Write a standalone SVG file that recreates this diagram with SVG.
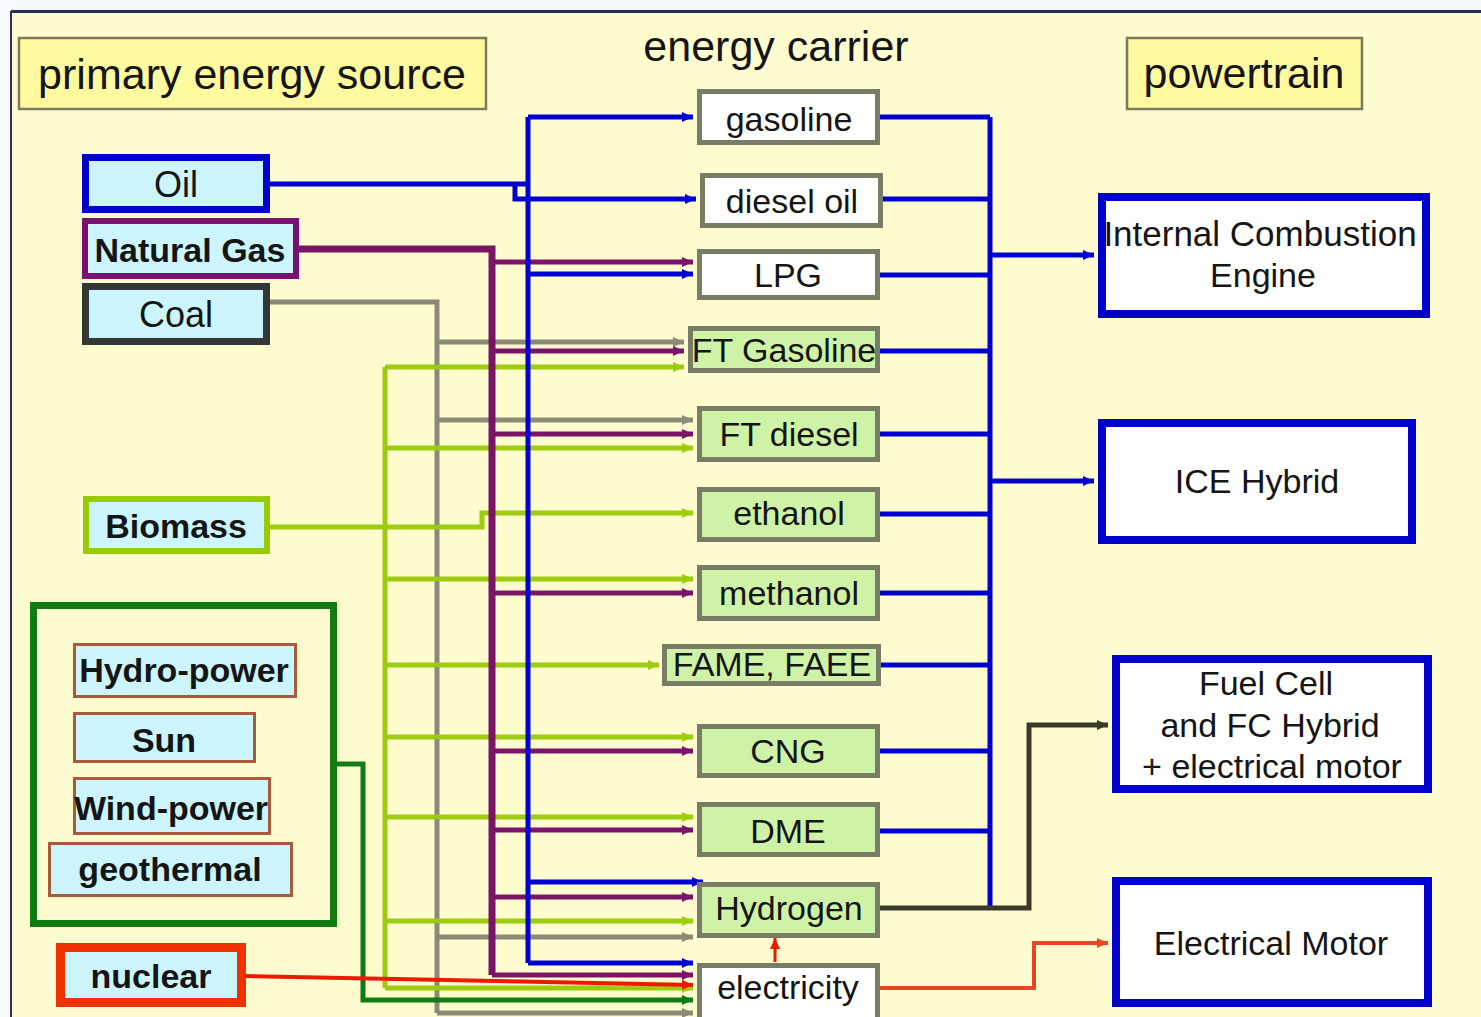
<svg xmlns="http://www.w3.org/2000/svg" width="1481" height="1017" viewBox="0 0 1481 1017">
<defs>
<style>
text{font-family:"Liberation Sans",Arial,sans-serif;fill:#151515;text-anchor:middle}
.hdr{font-size:43px}
.src{font-size:34px;font-weight:bold}
.srcr{font-size:36px}
.car{font-size:34px}
.pt{font-size:34px}
.hbox{fill:#FFF9A0;stroke:#7F7A5A;stroke-width:2.5}
.cbox{stroke:#7A7D66;stroke-width:5}
.w{fill:#FFFFFF}
.g{fill:#CFF3A6}
.sbox{fill:#CCF5FF}
.rbox{fill:#CCF5FF;stroke:#A85A3A;stroke-width:3}
.pbox{fill:#FFFFFF;stroke:#0000CC;stroke-width:8}
.ln{fill:none;stroke-linejoin:miter}
.blue{stroke:#0000D0;stroke-width:5}
.pur{stroke:#7A1466;stroke-width:5}
.grey{stroke:#8A8A76;stroke-width:5}
.grn{stroke:#9CCB10;stroke-width:5}
.dgrn{stroke:#127A12;stroke-width:5}
.red{stroke:#EE1A00;stroke-width:4}
.h2{stroke:#3A3A28;stroke-width:5}
.el{stroke:#EE4422;stroke-width:4}
</style>
<marker id="aB" markerUnits="userSpaceOnUse" markerWidth="12" markerHeight="12" refX="11" refY="6" orient="auto"><path d="M0,1 L11,6 L0,11 z" fill="#0000D0"/></marker>
<marker id="aP" markerUnits="userSpaceOnUse" markerWidth="12" markerHeight="12" refX="11" refY="6" orient="auto"><path d="M0,1 L11,6 L0,11 z" fill="#7A1466"/></marker>
<marker id="aG" markerUnits="userSpaceOnUse" markerWidth="12" markerHeight="12" refX="11" refY="6" orient="auto"><path d="M0,1 L11,6 L0,11 z" fill="#8A8A76"/></marker>
<marker id="aL" markerUnits="userSpaceOnUse" markerWidth="12" markerHeight="12" refX="11" refY="6" orient="auto"><path d="M0,1 L11,6 L0,11 z" fill="#9CCB10"/></marker>
<marker id="aD" markerUnits="userSpaceOnUse" markerWidth="12" markerHeight="12" refX="11" refY="6" orient="auto"><path d="M0,1 L11,6 L0,11 z" fill="#127A12"/></marker>
<marker id="aR" markerUnits="userSpaceOnUse" markerWidth="12" markerHeight="12" refX="11" refY="6" orient="auto"><path d="M0,1 L11,6 L0,11 z" fill="#EE1A00"/></marker>
<marker id="aH" markerUnits="userSpaceOnUse" markerWidth="12" markerHeight="12" refX="11" refY="6" orient="auto"><path d="M0,1 L11,6 L0,11 z" fill="#3A3A28"/></marker>
<marker id="aE" markerUnits="userSpaceOnUse" markerWidth="12" markerHeight="12" refX="11" refY="6" orient="auto"><path d="M0,1 L11,6 L0,11 z" fill="#EE4422"/></marker>
</defs>

<rect x="0" y="0" width="1481" height="1017" fill="#F6FAFC"/>
<rect x="11" y="11" width="1470" height="1006" fill="#FFFCCF"/>
<line x1="11" y1="11.5" x2="1481" y2="11.5" stroke="#2B2E55" stroke-width="3"/>
<line x1="11" y1="11" x2="11" y2="1017" stroke="#2B2E55" stroke-width="2"/>

<g id="headers">
<g id="hdr-primary"><rect class="hbox" x="19" y="38" width="467" height="71"/><text class="hdr" x="252" y="89">primary energy source</text></g>
<g id="hdr-carrier"><text class="hdr" x="776" y="61">energy carrier</text></g>
<g id="hdr-powertrain"><rect class="hbox" x="1127" y="38" width="235" height="71"/><text class="hdr" x="1244" y="88">powertrain</text></g>
</g>

<g id="connectors">
<!-- coal (grey) -->
<path class="ln grey" d="M268,302 H437 V1013"/>
<path class="ln grey" d="M437,342 H684" marker-end="url(#aG)"/>
<path class="ln grey" d="M437,420 H693" marker-end="url(#aG)"/>
<path class="ln grey" d="M437,937 H693" marker-end="url(#aG)"/>
<path class="ln grey" d="M437,1013 H693" marker-end="url(#aG)"/>
<!-- biomass (green) -->
<path class="ln grn" d="M268,527 H482 V513 H693" marker-end="url(#aL)"/>
<path class="ln grn" d="M385,367 V988"/>
<path class="ln grn" d="M385,367 H684" marker-end="url(#aL)"/>
<path class="ln grn" d="M385,448 H693" marker-end="url(#aL)"/>
<path class="ln grn" d="M385,579 H693" marker-end="url(#aL)"/>
<path class="ln grn" d="M385,665 H659" marker-end="url(#aL)"/>
<path class="ln grn" d="M385,737 H693" marker-end="url(#aL)"/>
<path class="ln grn" d="M385,817 H693" marker-end="url(#aL)"/>
<path class="ln grn" d="M385,921 H693" marker-end="url(#aL)"/>
<path class="ln grn" d="M385,988 H693" marker-end="url(#aL)"/>
<!-- renewables (dark green) -->
<path class="ln dgrn" d="M334,764 H363 V1000 H693" marker-end="url(#aD)"/>
<!-- natural gas (purple) -->
<path class="ln pur" d="M298,249 H492 V975" style="stroke-width:7"/>
<path class="ln pur" d="M492,262 H693" marker-end="url(#aP)"/>
<path class="ln pur" d="M492,351 H684" marker-end="url(#aP)"/>
<path class="ln pur" d="M492,434 H693" marker-end="url(#aP)"/>
<path class="ln pur" d="M492,593 H693" marker-end="url(#aP)"/>
<path class="ln pur" d="M492,751 H693" marker-end="url(#aP)"/>
<path class="ln pur" d="M492,830 H693" marker-end="url(#aP)"/>
<path class="ln pur" d="M492,897 H693" marker-end="url(#aP)"/>
<path class="ln pur" d="M492,975 H693" marker-end="url(#aP)"/>
<!-- oil (blue) -->
<path class="ln blue" d="M268,184 H528"/>
<path class="ln blue" d="M528,117 V963"/>
<path class="ln blue" d="M528,117 H693" marker-end="url(#aB)"/>
<path class="ln blue" d="M515,184 V199 H696" marker-end="url(#aB)"/>
<path class="ln blue" d="M528,274 H693" marker-end="url(#aB)"/>
<path class="ln blue" d="M528,882 H703" marker-end="url(#aB)"/>
<path class="ln blue" d="M528,963 H693" marker-end="url(#aB)"/>
<!-- nuclear (red) -->
<path class="ln red" d="M242,976 L693,985" marker-end="url(#aR)"/>
<!-- electricity to hydrogen -->
<path class="ln red" d="M775,962 V938" style="stroke-width:3" marker-end="url(#aR)"/>
<!-- right bus (blue) -->
<path class="ln blue" d="M990,117 V908"/>
<path class="ln blue" d="M880,117 H990 M883,199 H990 M880,275 H990 M880,351 H990 M880,434 H990 M880,514 H990 M880,593 H990 M880,665 H990 M880,751 H990 M880,831 H990"/>
<path class="ln blue" d="M990,255 H1094" marker-end="url(#aB)"/>
<path class="ln blue" d="M990,481 H1094" marker-end="url(#aB)"/>
<!-- hydrogen out -->
<path class="ln h2" d="M880,908 H1029 V725 H1108" marker-end="url(#aH)"/>
<!-- electricity out -->
<path class="ln el" d="M880,988 H1034 V943 H1108" marker-end="url(#aE)"/>
</g>

<g id="sources">
<g id="src-oil"><rect class="sbox" x="85.5" y="157.5" width="181" height="52" stroke="#0000CC" stroke-width="7"/><text class="srcr" x="176" y="197">Oil</text></g>
<g id="src-gas"><rect class="sbox" x="85" y="221" width="211" height="55" stroke="#7A1070" stroke-width="6"/><text class="src" x="190" y="262">Natural Gas</text></g>
<g id="src-coal"><rect class="sbox" x="85.5" y="286.5" width="181" height="55" stroke="#323838" stroke-width="7"/><text class="srcr" x="176" y="327">Coal</text></g>
<g id="src-biomass"><rect class="sbox" x="86" y="499" width="181" height="52" stroke="#99CC00" stroke-width="6"/><text class="src" x="176" y="538">Biomass</text></g>
<g id="src-renewables">
<rect x="33.5" y="605.5" width="300" height="318" fill="none" stroke="#127A12" stroke-width="7"/>
<g id="src-hydro"><rect class="rbox" x="74.5" y="644.5" width="221" height="52"/><text class="src" x="184" y="682">Hydro-power</text></g>
<g id="src-sun"><rect class="rbox" x="74.5" y="713.5" width="180" height="48"/><text class="src" x="164" y="752">Sun</text></g>
<g id="src-wind"><rect class="rbox" x="74.5" y="778.5" width="195" height="55"/><text class="src" x="171" y="820">Wind-power</text></g>
<g id="src-geo"><rect class="rbox" x="49.5" y="843.5" width="242" height="52"/><text class="src" x="170" y="881">geothermal</text></g>
</g>
<g id="src-nuclear"><rect class="sbox" x="60.5" y="947.5" width="181" height="55" stroke="#EE3300" stroke-width="9"/><text class="src" x="151" y="988">nuclear</text></g>
</g>

<g id="carriers">
<g id="c-gasoline"><rect class="cbox w" x="699.5" y="91.5" width="178" height="51"/><text class="car" x="789" y="131">gasoline</text></g>
<g id="c-diesel"><rect class="cbox w" x="702.5" y="175.5" width="178" height="50"/><text class="car" x="792" y="213">diesel oil</text></g>
<g id="c-lpg"><rect class="cbox w" x="699.5" y="251.5" width="178" height="46"/><text class="car" x="788" y="287">LPG</text></g>
<g id="c-ftgas"><rect class="cbox g" x="690.5" y="328.5" width="187" height="42"/><text class="car" x="784" y="362">FT Gasoline</text></g>
<g id="c-ftdiesel"><rect class="cbox g" x="699.5" y="408.5" width="178" height="51"/><text class="car" x="789" y="446">FT diesel</text></g>
<g id="c-ethanol"><rect class="cbox g" x="699.5" y="489.5" width="178" height="50"/><text class="car" x="789" y="525">ethanol</text></g>
<g id="c-methanol"><rect class="cbox g" x="699.5" y="567.5" width="178" height="51"/><text class="car" x="789" y="605">methanol</text></g>
<g id="c-fame"><rect class="cbox g" x="664.5" y="646.5" width="214" height="37"/><text class="car" x="772" y="676">FAME, FAEE</text></g>
<g id="c-cng"><rect class="cbox g" x="699.5" y="726.5" width="178" height="49"/><text class="car" x="788" y="763">CNG</text></g>
<g id="c-dme"><rect class="cbox g" x="699.5" y="804.5" width="178" height="50"/><text class="car" x="788" y="843">DME</text></g>
<g id="c-hydrogen"><rect class="cbox g" x="699.5" y="884.5" width="178" height="51"/><text class="car" x="789" y="920">Hydrogen</text></g>
<g id="c-electricity"><rect class="cbox w" x="699.5" y="965.5" width="178" height="56"/><text class="car" x="788" y="999">electricity</text></g>
</g>

<g id="powertrains">
<g id="p-ice"><rect class="pbox" x="1102" y="197" width="324" height="117"/><text class="pt" x="1260" y="246" style="font-size:35px">Internal Combustion</text><text class="pt" x="1263" y="287">Engine</text></g>
<g id="p-hybrid"><rect class="pbox" x="1102" y="423" width="310" height="117"/><text class="pt" x="1257" y="493">ICE Hybrid</text></g>
<g id="p-fc"><rect class="pbox" x="1116" y="659" width="312" height="130"/><text class="pt" x="1266" y="695">Fuel Cell</text><text class="pt" x="1270" y="737">and FC Hybrid</text><text class="pt" x="1272" y="778">+ electrical motor</text></g>
<g id="p-em"><rect class="pbox" x="1116" y="881" width="312" height="122"/><text class="pt" x="1271" y="955">Electrical Motor</text></g>
</g>
</svg>
